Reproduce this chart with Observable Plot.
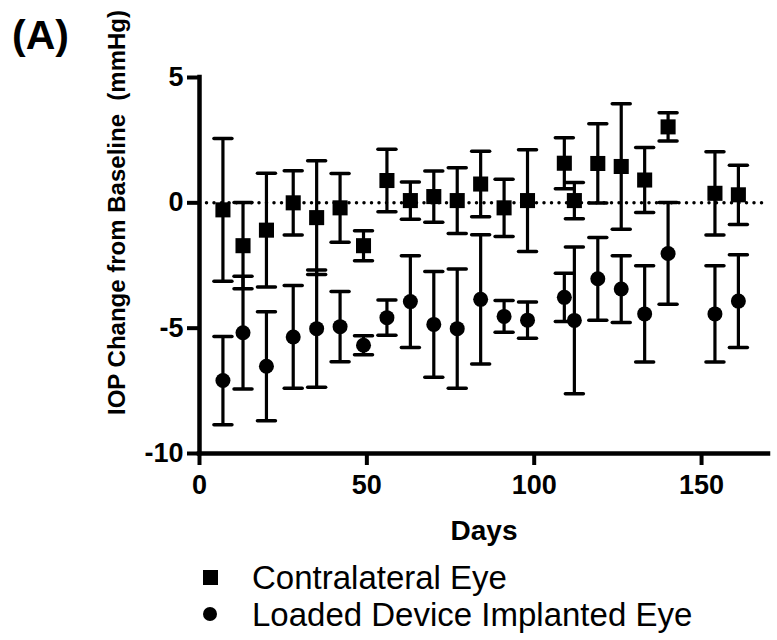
<!DOCTYPE html>
<html>
<head>
<meta charset="utf-8">
<script src="https://cdn.jsdelivr.net/npm/d3@7"></script>
<script src="https://cdn.jsdelivr.net/npm/@observablehq/plot@0.6"></script>
<style>
  html, body { margin: 0; padding: 0; background: #fff; }
  #wrap { position: relative; width: 777px; height: 640px; overflow: hidden; font-family: "Liberation Sans", Arial, sans-serif; }
  #panel { position: absolute; left: 12px; top: 15px; font-size: 41px; font-weight: bold; line-height: 1; }
  #legend { position: absolute; left: 0; top: 560px; width: 777px; }
  .row { position: absolute; left: 252px; font-size: 33px; line-height: 0.88; white-space: nowrap; }
  .sym { position: absolute; background: #000; }
</style>
</head>
<body>
<div id="wrap">
  <div id="chart"></div>
  <div id="panel">(A)</div>
  <div id="legend"></div>
</div>
<script>
// Days of measurement
const days = [7, 13, 20, 28, 35, 42, 49, 56, 63, 70, 77, 84, 91, 98, 109, 112, 119, 126, 133, 140, 154, 161];
// Contralateral Eye: mean and error
const contraMean = [-0.28, -1.71, -1.09, 0.0, -0.59, -0.2, -1.71, 0.89, 0.09, 0.25, 0.09, 0.75, -0.2, 0.09, 1.58, 0.09, 1.57, 1.45, 0.91, 3.03, 0.38, 0.32];
const contraErr  = [2.85, 1.72, 2.27, 1.28, 2.27, 1.37, 0.6, 1.25, 0.74, 1.02, 1.31, 1.31, 1.14, 2.03, 1.02, 0.72, 1.58, 2.5, 1.3, 0.56, 1.66, 1.18];
// Loaded Device Implanted Eye: mean and error
const loadedMean = [-7.09, -5.18, -6.52, -5.35, -5.02, -4.94, -5.68, -4.58, -3.94, -4.85, -5.02, -3.85, -4.53, -4.68, -3.77, -4.69, -3.03, -3.44, -4.43, -2.02, -4.43, -3.92];
const loadedErr  = [1.76, 2.25, 2.17, 2.05, 2.34, 1.4, 0.38, 0.7, 1.83, 2.11, 2.38, 2.58, 0.63, 0.72, 0.96, 2.93, 1.65, 1.33, 1.92, 2.03, 1.92, 1.85];

const seriesNames = ["Contralateral Eye", "Loaded Device Implanted Eye"];
const xTicks = [0, 50, 100, 150];
const yTicks = [-10, -5, 0, 5];
const xLabel = "Days";
const yLabel = "IOP Change from Baseline  (mmHg)";

const contra = days.map((d, i) => ({day: d, mean: contraMean[i], err: contraErr[i]}));
const loaded = days.map((d, i) => ({day: d, mean: loadedMean[i], err: loadedErr[i]}));
const all = contra.concat(loaded);

const capSymbol = {
  draw(context, size) {
    const w = Math.sqrt(size / Math.PI);
    context.moveTo(-w, 0);
    context.lineTo(w, 0);
  }
};

const FONT = '"Liberation Sans", Arial, sans-serif';

const chart = Plot.plot({
  width: 777,
  height: 560,
  marginLeft: 199,
  marginRight: 9,
  marginTop: 77,
  marginBottom: 107,
  style: {fontFamily: FONT, background: "white", color: "black"},
  x: {domain: [0, 170]},
  y: {domain: [-10, 5]},
  marks: [
    Plot.ruleY([0], {x1: 0, x2: 170, stroke: "black", strokeWidth: 3.5, strokeDasharray: "0 7.5", strokeLinecap: "round"}),
    Plot.ruleX(all, {x: "day", y1: d => d.mean - d.err, y2: d => d.mean + d.err, stroke: "black", strokeWidth: 3.2}),
    Plot.dot(all, {x: "day", y: d => d.mean + d.err, symbol: capSymbol, r: 9, stroke: "black", strokeWidth: 3.5, strokeLinecap: "round", fill: "none"}),
    Plot.dot(all, {x: "day", y: d => d.mean - d.err, symbol: capSymbol, r: 9, stroke: "black", strokeWidth: 3.5, strokeLinecap: "round", fill: "none"}),
    Plot.dot(contra, {x: "day", y: "mean", symbol: "square", r: 8.5, fill: "black", stroke: "none"}),
    Plot.dot(loaded, {x: "day", y: "mean", symbol: "circle", r: 7.5, fill: "black", stroke: "none"}),
    Plot.ruleX([0], {y1: -10, y2: 5, stroke: "black", strokeWidth: 4.5, strokeLinecap: "square"}),
    Plot.ruleY([-10], {x1: 0, x2: 170, stroke: "black", strokeWidth: 4.5, strokeLinecap: "square"}),
    Plot.axisX({ticks: xTicks, tickSize: 12, tickPadding: 9, strokeWidth: 4, fontSize: 27, fontWeight: "bold", label: null, tickFormat: d => String(d)}),
    Plot.axisY({ticks: yTicks, tickSize: 12, tickPadding: 4, strokeWidth: 4, fontSize: 27, fontWeight: "bold", label: null, tickFormat: d => String(d)}),
    Plot.text([xLabel], {frameAnchor: "bottom", dy: 78, fontSize: 28, fontWeight: "bold", lineAnchor: "middle"}),
    Plot.text([yLabel], {frameAnchor: "left", dx: -82, dy: -53, rotate: -90, fontSize: 24, fontWeight: "bold", lineAnchor: "middle", textAnchor: "middle"})
  ]
});
document.getElementById("chart").appendChild(chart);

// Legend
const legend = document.getElementById("legend");
const symbols = ["square", "circle"];
seriesNames.forEach((name, i) => {
  const row = document.createElement("div");
  row.className = "row";
  row.style.top = (i === 0 ? 3 : 40) + "px";
  row.textContent = name;
  legend.appendChild(row);
  const s = document.createElement("div");
  s.className = "sym";
  if (symbols[i] === "square") {
    s.style.left = "203px"; s.style.top = "9.5px"; s.style.width = "15px"; s.style.height = "15px";
  } else {
    s.style.left = "203px"; s.style.top = "46.5px"; s.style.width = "14px"; s.style.height = "14px"; s.style.borderRadius = "50%";
  }
  legend.appendChild(s);
});
</script>
</body>
</html>
